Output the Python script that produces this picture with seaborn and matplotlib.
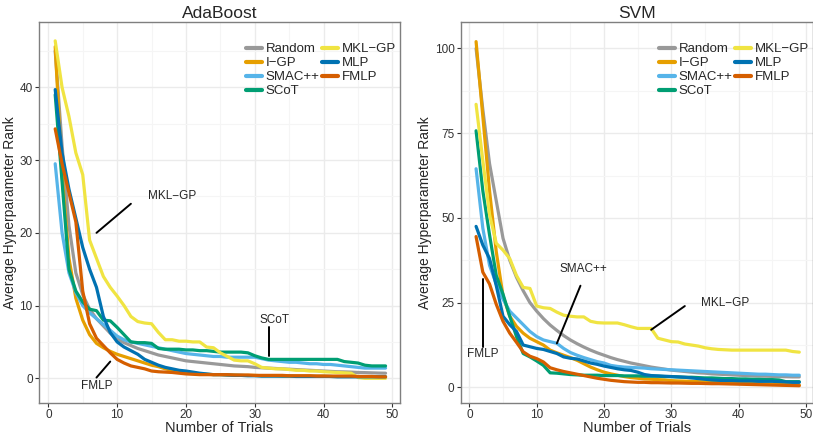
import numpy as np
import pandas as pd
import matplotlib
matplotlib.use("Agg")
import matplotlib.pyplot as plt
import seaborn as sns
from matplotlib.ticker import MultipleLocator

# legend labels use the minus sign, as in the original figure
methods = ["Random", "I\u2212GP", "SMAC++", "SCoT", "MKL\u2212GP", "MLP", "FMLP"]
colors = ["#999999", "#E69F00", "#56B4E9", "#009E73", "#F0E442", "#0072B2", "#D55E00"]
trials = list(range(1, 50))

# AdaBoost panel
ada_random = [45, 32, 21, 14.5, 11.5, 9.5, 8.2, 7.2, 6.2, 5.4,
              4.9, 4.5, 4.1, 3.8, 3.5, 3.2, 3.0, 2.8, 2.6, 2.4,
              2.3, 2.2, 2.1, 2.0, 1.9, 1.8, 1.7, 1.65, 1.6, 1.5,
              1.45, 1.4, 1.35, 1.3, 1.25, 1.2, 1.15, 1.1, 1.05, 1.0,
              0.95, 0.9, 0.88, 0.85, 0.8, 0.78, 0.75, 0.72, 0.7]
ada_igp = [45.6, 28, 16.5, 11, 8, 6, 4.8, 4.2, 3.7, 3.3,
           3.0, 2.7, 2.4, 2.1, 1.8, 1.6, 1.3, 1.1, 0.95, 0.8,
           0.7, 0.6, 0.55, 0.5, 0.5, 0.45, 0.45, 0.4, 0.4, 0.4,
           0.35, 0.35, 0.35, 0.3, 0.3, 0.3, 0.3, 0.3, 0.3, 0.3,
           0.25, 0.25, 0.25, 0.25, 0.25, 0.2, 0.2, 0.2, 0.2]
ada_smac = [29.5, 20, 14.5, 11.8, 10, 9, 8.2, 7.4, 6.6, 5.8,
            5.3, 5.0, 4.8, 4.6, 4.4, 4.2, 4.0, 3.8, 3.6, 3.4,
            3.3, 3.2, 3.1, 3.0, 3.0, 2.9, 2.9, 2.9, 2.9, 2.9,
            2.7, 2.5, 2.4, 2.3, 2.2, 2.2, 2.1, 2.0, 2.0, 1.9,
            1.9, 1.8, 1.7, 1.6, 1.5, 1.4, 1.4, 1.4, 1.4]
ada_scot = [39, 27, 15, 12, 10.5, 9.5, 9.3, 8.0, 7.9, 7.0,
            6.0, 5.0, 4.9, 4.9, 4.8, 4.1, 4.0, 4.0, 4.0, 3.9,
            3.9, 3.8, 3.8, 3.7, 3.6, 3.6, 3.6, 3.6, 3.5, 3.1,
            2.8, 2.6, 2.6, 2.6, 2.6, 2.6, 2.6, 2.6, 2.6, 2.6,
            2.6, 2.6, 2.3, 2.2, 2.1, 1.8, 1.7, 1.7, 1.7]
ada_mkl = [46.4, 40, 36, 31, 28, 19, 16.5, 14, 12.5, 11.3,
           10, 8.5, 7.8, 7.6, 7.5, 6.3, 5.3, 5.3, 5.1, 5.1,
           5.0, 5.0, 4.3, 4.2, 3.5, 3.0, 2.5, 2.4, 2.4, 2.0,
           1.5, 1.4, 1.3, 1.3, 1.2, 1.1, 1.1, 1.0, 1.0, 0.9,
           0.85, 0.8, 0.75, 0.7, 0.1, 0.0, 0.0, 0.0, 0.0]
ada_mlp = [39.7, 31, 26, 22, 18, 15, 12.5, 8.5, 6.3, 5.0,
           4.3, 3.8, 3.3, 2.6, 2.2, 1.8, 1.5, 1.3, 1.1, 1.0,
           0.85, 0.7, 0.6, 0.5, 0.5, 0.45, 0.4, 0.4, 0.35, 0.35,
           0.3, 0.3, 0.3, 0.3, 0.3, 0.25, 0.25, 0.25, 0.25, 0.25,
           0.25, 0.2, 0.2, 0.2, 0.2, 0.2, 0.2, 0.2, 0.2]
ada_fmlp = [34.3, 29.5, 25.5, 21.5, 12, 7.5, 5.5, 4.5, 3.5, 2.6,
            2.1, 1.7, 1.5, 1.3, 1.0, 0.9, 0.85, 0.8, 0.7, 0.6,
            0.55, 0.5, 0.5, 0.5, 0.5, 0.5, 0.45, 0.45, 0.45, 0.4,
            0.4, 0.4, 0.4, 0.4, 0.35, 0.35, 0.35, 0.35, 0.3, 0.3,
            0.3, 0.3, 0.3, 0.3, 0.25, 0.25, 0.25, 0.2, 0.2]

# SVM panel
svm_random = [100, 82, 66, 55, 44, 37.5, 32.5, 28.5, 25, 22.5,
              20.3, 18.4, 16.8, 15.3, 14.0, 12.9, 11.9, 11.0, 10.2, 9.5,
              8.8, 8.2, 7.7, 7.2, 6.8, 6.4, 6.0, 5.7, 5.4, 5.1,
              4.9, 4.7, 4.5, 4.3, 4.2, 4.0, 3.9, 3.8, 3.7, 3.6,
              3.5, 3.4, 3.35, 3.3, 3.25, 3.2, 3.15, 3.1, 3.1]
svm_igp = [102, 80, 58, 40, 27, 21, 18, 16, 14.5, 13.5,
           12.5, 11, 10.2, 9.5, 8.8, 8.0, 7.0, 6.0, 5.2, 4.5,
           4.0, 3.6, 3.2, 2.9, 2.7, 2.5, 2.4, 2.3, 2.2, 2.0,
           1.9, 1.85, 1.8, 1.7, 1.65, 1.6, 1.5, 1.45, 1.4, 1.3,
           1.25, 1.2, 1.1, 1.0, 0.95, 0.9, 0.8, 0.75, 0.7]
svm_smac = [64.5, 47, 36, 30.5, 26, 22.5, 20.5, 18.5, 16.5, 15,
            14, 13.5, 13, 11.5, 10.3, 9.5, 8.8, 8.2, 7.6, 7.2,
            6.5, 6.2, 6.0, 5.9, 5.8, 5.7, 5.5, 5.4, 5.3, 5.2,
            5.1, 5.0, 4.9, 4.8, 4.7, 4.6, 4.5, 4.4, 4.3, 4.2,
            4.1, 4.0, 3.9, 3.9, 3.8, 3.7, 3.7, 3.6, 3.6]
svm_scot = [75.7, 58, 45, 33, 27.5, 21, 15, 10, 9, 7.8,
            6.5, 4.3, 4.2, 4.0, 3.8, 3.7, 3.6, 3.6, 3.6, 3.5,
            3.5, 3.5, 3.4, 3.4, 3.4, 3.3, 3.3, 3.3, 3.2, 3.2,
            3.1, 3.0, 3.0, 2.9, 2.8, 2.8, 2.7, 2.6, 2.6, 2.5,
            2.5, 2.4, 2.4, 2.3, 2.3, 2.2, 1.7, 1.7, 1.7]
svm_mkl = [83.5, 67, 51, 42.5, 40.5, 38, 33, 29.5, 29.2, 24,
           23.5, 23.3, 22.2, 21.3, 21, 20.8, 20.8, 19.5, 19.1, 19,
           19, 19, 18.5, 17.9, 17.4, 17.4, 17.4, 14.5, 14, 13.5,
           13.4, 12.8, 12.5, 12.2, 11.7, 11.4, 11.2, 11.1, 11.0, 11.0,
           11.0, 11.0, 11.0, 11.0, 11.0, 11.0, 11.0, 10.6, 10.4]
svm_mlp = [47.5, 42, 38, 30, 21, 18.5, 16.5, 12.5, 12, 11.5,
           11.2, 10.6, 10, 9, 8.6, 8.4, 7.8, 7.2, 6.8, 6.3,
           5.9, 5.5, 5.2, 5.0, 4.5, 3.8, 3.5, 3.4, 3.3, 3.2,
           3.1, 3.0, 2.8, 2.6, 2.4, 2.2, 2.1, 2.0, 2.0, 1.9,
           1.9, 1.9, 1.8, 1.8, 1.8, 1.7, 1.6, 1.5, 1.5]
svm_fmlp = [44.5, 34, 30.5, 24.5, 19.5, 16, 13.3, 10.5, 9.2, 8.5,
            7.5, 5.8, 5.2, 4.7, 4.3, 3.9, 3.5, 3.1, 2.7, 2.4,
            2.1, 1.9, 1.7, 1.6, 1.5, 1.5, 1.4, 1.4, 1.35, 1.3,
            1.3, 1.25, 1.2, 1.2, 1.15, 1.1, 1.1, 1.05, 1.0, 0.95,
            0.9, 0.85, 0.8, 0.75, 0.7, 0.65, 0.6, 0.55, 0.5]

ada_series = [ada_random, ada_igp, ada_smac, ada_scot, ada_mkl, ada_mlp, ada_fmlp]
svm_series = [svm_random, svm_igp, svm_smac, svm_scot, svm_mkl, svm_mlp, svm_fmlp]


def long_frame(series):
    rows = []
    for name, vals in zip(methods, series):
        for t, v in zip(trials, vals):
            rows.append({"trial": t, "rank": v, "method": name})
    return pd.DataFrame(rows)


sns.set_style("whitegrid", {"axes.edgecolor": "#7F7F7F", "grid.color": "#EBEBEB"})
plt.rcParams["font.family"] = ["Liberation Sans", "DejaVu Sans"]

fig = plt.figure(figsize=(8.13, 4.34), dpi=100)
ax1 = fig.add_axes([0.048, 0.0714, 0.444, 0.878])
ax2 = fig.add_axes([0.5667, 0.0714, 0.433, 0.878])


def draw_panel(ax, series, title, xlim, ylim, ymajor):
    df = long_frame(series)
    sns.lineplot(data=df, x="trial", y="rank", hue="method", hue_order=methods,
                 palette=colors, linewidth=2.3, errorbar=None, ax=ax)
    ax.set_xlim(*xlim)
    ax.set_ylim(*ylim)
    ax.xaxis.set_major_locator(MultipleLocator(10))
    ax.xaxis.set_minor_locator(MultipleLocator(5))
    ax.yaxis.set_major_locator(MultipleLocator(ymajor))
    ax.yaxis.set_minor_locator(MultipleLocator(ymajor / 2))
    ax.grid(which="major", color="#EBEBEB", linewidth=1.0)
    ax.grid(which="minor", color="#F5F5F5", linewidth=0.8)
    ax.set_axisbelow(True)
    for s in ax.spines.values():
        s.set_color("#7F7F7F")
        s.set_linewidth(1.0)
    ax.tick_params(which="major", direction="out", length=3, width=0.8,
                   color="#333333", labelsize=8.5, labelcolor="#333333", pad=1.5,
                   bottom=True, left=True)
    ax.tick_params(which="minor", length=0)
    ax.set_title(title, fontsize=12.5, pad=3)
    ax.set_xlabel("Number of Trials", fontsize=10.5, labelpad=0)
    ax.set_ylabel("Average Hyperparameter Rank", fontsize=10, labelpad=2)
    h, l = ax.get_legend_handles_labels()
    for hh in h:
        hh.set_linewidth(3)
    ax.legend(h, l, ncol=2, loc="upper right", bbox_to_anchor=(0.99, 0.945),
              frameon=False, fontsize=9.5, handlelength=1.2, handletextpad=0.3,
              columnspacing=0.2, labelspacing=0.14, borderpad=0, borderaxespad=0)


draw_panel(ax1, ada_series, "AdaBoost", (-1.35, 51.1), (-3.4, 49), 10)
draw_panel(ax2, svm_series, "SVM", (-1.28, 51.0), (-4.6, 107.8), 25)

# annotations
ann_kw = dict(color="black", linewidth=1.4)
ax1.plot([7, 12], [20, 24], **ann_kw)
ax1.text(18, 25, "MKL\u2212GP", fontsize=8.5, ha="center", va="center")
ax1.plot([32, 32], [3.0, 7.0], **ann_kw)
ax1.text(32.8, 8.0, "SCoT", fontsize=8.5, ha="center", va="center")
ax1.plot([7, 9], [0.1, 2.3], **ann_kw)
ax1.text(7, -1.0, "FMLP", fontsize=8.5, ha="center", va="center")

ax2.plot([13, 16.5], [13, 30], **ann_kw)
ax2.text(17, 35, "SMAC++", fontsize=8.5, ha="center", va="center")
ax2.plot([27, 32], [17, 24], **ann_kw)
ax2.text(38, 25, "MKL\u2212GP", fontsize=8.5, ha="center", va="center")
ax2.plot([2, 2], [12, 32], **ann_kw)
ax2.text(2, 10, "FMLP", fontsize=8.5, ha="center", va="center")

fig.savefig("out.png", dpi=100)
